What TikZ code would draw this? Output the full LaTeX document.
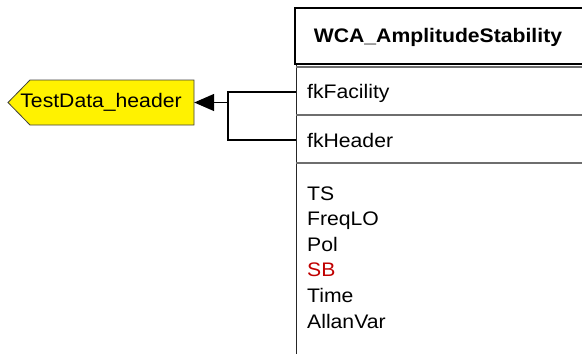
\documentclass[tikz,border=0pt]{standalone}
\usepackage{fontspec}
\setmainfont{Liberation Sans}[FakeStretch=1.08]
\usetikzlibrary{arrows.meta}
\definecolor{sbred}{RGB}{192,0,0}
\definecolor{rowgray}{RGB}{110,110,110}
\begin{document}
\begin{tikzpicture}[x=1pt,y=-1pt,
  txt/.style={inner sep=0pt,font=\fontsize{19.6}{22}\selectfont},
  attr/.style={txt,anchor=base west},
  conn/.style={line width=1.5pt,black},
  rowline/.style={line width=1.3pt,rowgray},
  tdbox/.style={txt,minimum width=186pt,minimum height=45pt}]
\useasboundingbox (0,0) rectangle (582,354);
\clip (0,0) rectangle (582,354);
% tag shape
\filldraw[fill=yellow,draw=black!75,line width=0.8pt] (30,80) -- (194,80) -- (194,125) -- (30,125) -- (8,102.5) -- cycle;
\node[tdbox] (td) at (101,102.5) {TestData\_header};
% table
\draw[line width=1pt,black!85] (296,64) -- (296,360);
\draw[rowline] (296,67) -- (590,67);
\draw[rowline] (296,115) -- (590,115);
\draw[rowline] (296,163) -- (590,163);
\draw[line width=2.5pt] (295,8) rectangle (590,64);
\node[txt,anchor=base] (title) at (438,42) {\bfseries WCA\_AmplitudeStability};
\node[attr] (fkf) at (307,98.5) {fkFacility};
\node[attr] (fkh) at (307,147) {fkHeader};
\node[attr] (a1) at (307,200) {TS};
\node[attr] (a2) at (307,225.6) {FreqLO};
\node[attr] (a3) at (307,251.2) {Pol};
\node[attr,text=sbred] (a4) at (307,276.8) {SB};
\node[attr] (a5) at (307,302.4) {Time};
\node[attr] (a6) at (307,328) {AllanVar};
% connectors
\coordinate (pf) at (296,92);
\coordinate (ph) at (296,140);
\coordinate (jf) at (228,92);
\coordinate (jh) at (228,140);
\coordinate (ja) at (228,102.5);
\draw[conn] (pf) -- (jf) -- (jh) -- (ph);
\draw[conn,-{Triangle[length=20pt,width=17pt]}] (ja) -- (td.east);
\end{tikzpicture}
\end{document}
